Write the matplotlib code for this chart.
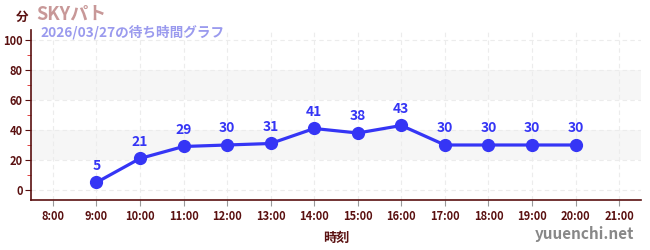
import matplotlib
matplotlib.use("Agg")
import matplotlib.pyplot as plt
from matplotlib.ticker import MultipleLocator

plt.rcParams['font.family'] = ['Noto Sans CJK JP', 'DejaVu Sans']

hours = [9, 10, 11, 12, 13, 14, 15, 16, 17, 18, 19, 20]
waits = [5, 21, 29, 30, 31, 41, 38, 43, 30, 30, 30, 30]
xtick_hours = list(range(8, 22))
xtick_labels = [f"{h}:00" for h in xtick_hours]
yticks = [0, 20, 40, 60, 80, 100]
title = "SKYパト"
subtitle = "2026/03/27の待ち時間グラフ"

fig = plt.figure(figsize=(6.5, 2.5), dpi=100)
ax = fig.add_axes([31/650, 1-200/250, (641-31)/650, 170/250])

ax.set_xlim(7.5, 21.5)
ax.set_ylim(-6.67, 106.67)

for lo, hi in [(20, 40), (60, 80)]:
    ax.axhspan(lo, hi, color='#f6f6f6', zorder=0, lw=0)

for h in xtick_hours:
    ax.axvline(h, color='#ececec', lw=0.8, ls=(0, (4, 3)), zorder=1)
for y in yticks:
    ax.axhline(y, color='#ececec', lw=0.8, ls=(0, (4, 3)), zorder=1)

line_color = '#3535f5'
ax.plot(hours, waits, color=line_color, lw=2.3, marker='o', ms=8.5, zorder=3)
for h, w in zip(hours, waits):
    ax.annotate(str(w), (h, w), xytext=(0, 7), textcoords='offset points',
                ha='center', va='bottom', color=line_color, fontsize=10,
                fontweight='bold')

ax.set_xticks(xtick_hours)
ax.set_xticklabels(xtick_labels)
ax.set_yticks(yticks)
ax.yaxis.set_minor_locator(MultipleLocator(10))

dark = '#5a1010'
for lab in ax.get_xticklabels() + ax.get_yticklabels():
    lab.set_color(dark)
    lab.set_fontweight('bold')
    lab.set_fontsize(8)
ax.tick_params(axis='x', length=4, color='#999999', pad=3)
ax.tick_params(axis='y', which='major', length=4, color=dark, pad=2)
ax.tick_params(axis='y', which='minor', length=3, color='#dd2222')

for s in ['top', 'right']:
    ax.spines[s].set_visible(False)
ax.spines['left'].set_color(dark)
ax.spines['bottom'].set_color(dark)
ax.spines['left'].set_linewidth(1.2)
ax.spines['bottom'].set_linewidth(1.2)

ax.set_xlabel("時刻", color=dark, fontsize=9.5, fontweight='bold', labelpad=6)

fig.text(22/650, 1-17/250, "分", color=dark, fontsize=9, fontweight='bold',
         ha='center', va='center')
fig.text(36/650, 1-14/250, title, color='#c89898', fontsize=13,
         fontweight='bold', ha='left', va='center')
fig.text(40/650, 1-32/250, subtitle, color='#9a9aee', fontsize=9.8,
         fontweight='bold', ha='left', va='center')
fig.text(634/650, 1-234/250, "yuuenchi.net", color='#888888', fontsize=11,
         fontweight='bold', ha='right', va='center')

fig.savefig("out.png", dpi=100)
